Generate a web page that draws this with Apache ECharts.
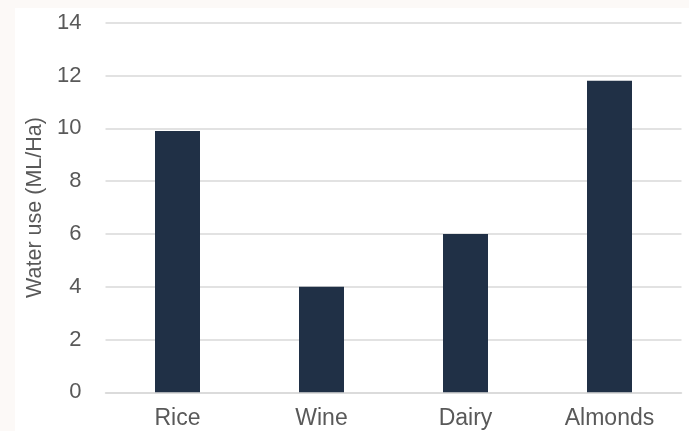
<!DOCTYPE html>
<html><head><meta charset="utf-8">
<script src="https://cdn.jsdelivr.net/npm/echarts@6/dist/echarts.min.js"></script>
<style>html,body{margin:0;padding:0;background:#fff;}#c{width:689px;height:431px;}</style>
</head><body><div id="c"></div>
<script>
const categories = ['Rice', 'Wine', 'Dairy', 'Almonds'];
const waterUse = [9.9, 4.0, 6.0, 11.8];
const yTicks = [0, 2, 4, 6, 8, 10, 12, 14];

const chart = echarts.init(document.getElementById('c'), null, {renderer: 'canvas'});
chart.setOption({
  backgroundColor: '#fcf9f7',
  animation: false,
  graphic: [{type: 'rect', left: 15, top: 8, shape: {width: 674, height: 423}, style: {fill: '#ffffff'}, z: -10}],
  textStyle: {fontFamily: 'Liberation Sans, Arial, sans-serif'},
  grid: {left: 105.5, right: 7.5, top: 22.7, bottom: 38.7},
  xAxis: {
    type: 'category', data: categories,
    axisLine: {show: true, lineStyle: {color: '#d9d9d9', width: 1.5}},
    axisTick: {show: false},
    axisLabel: {color: '#595959', fontSize: 23, margin: 15}
  },
  yAxis: {
    type: 'value', min: yTicks[0], max: yTicks[yTicks.length - 1], interval: 2,
    name: 'Water use (ML/Ha)', nameLocation: 'middle', nameGap: 57,
    nameTextStyle: {color: '#595959', fontSize: 21.5},
    axisLine: {show: false}, axisTick: {show: false},
    axisLabel: {color: '#595959', fontSize: 22, margin: 24},
    splitLine: {lineStyle: {color: '#d9d9d9', width: 1.5}}
  },
  series: [{
    type: 'bar', data: waterUse, barWidth: 45,
    itemStyle: {color: '#203046'}
  }]
});
</script></body></html>
